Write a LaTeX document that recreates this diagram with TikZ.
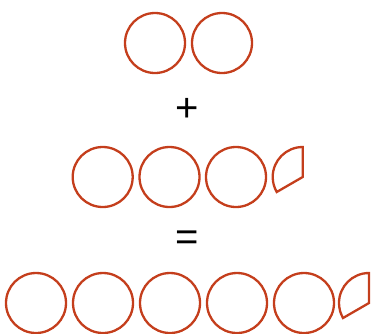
\documentclass[tikz,border=0pt]{standalone}
\usepackage{fontspec}
\setmainfont{Liberation Sans}
\definecolor{rust}{RGB}{196,62,28}
\begin{document}
\begin{tikzpicture}[x=1pt,y=-1pt,
  whole/.style={circle,draw=rust,line width=2.3pt,minimum size=60pt,inner sep=0pt},
  third/.style={draw=rust,line width=2.3pt,line join=miter},
  sign/.style={font=\fontsize{40}{40}\selectfont,inner sep=0pt}]
\useasboundingbox (0,0) rectangle (371,333);
% top row
\node[whole] (a1) at (155,43) {};
\node[whole] (a2) at (222,43) {};
\node[sign] (plus) at (187.5,110) {+};
% middle row
\node[whole] (b1) at (102.7,177) {};
\node[whole] (b2) at (169.5,177) {};
\node[whole] (b3) at (236,177) {};
\coordinate (bc) at (302.7,177);
\draw[third] (bc) -- ++(0,-30) arc[start angle=-90,end angle=-210,radius=30] -- cycle;
\node[sign] (eq) at (187.5,241) {=};
% bottom row
\node[whole] (c1) at (36,303) {};
\node[whole] (c2) at (103,303) {};
\node[whole] (c3) at (170,303) {};
\node[whole] (c4) at (237,303) {};
\node[whole] (c5) at (304,303) {};
\coordinate (cc) at (369,303);
\draw[third] (cc) -- ++(0,-30) arc[start angle=-90,end angle=-210,radius=30] -- cycle;
\end{tikzpicture}
\end{document}
